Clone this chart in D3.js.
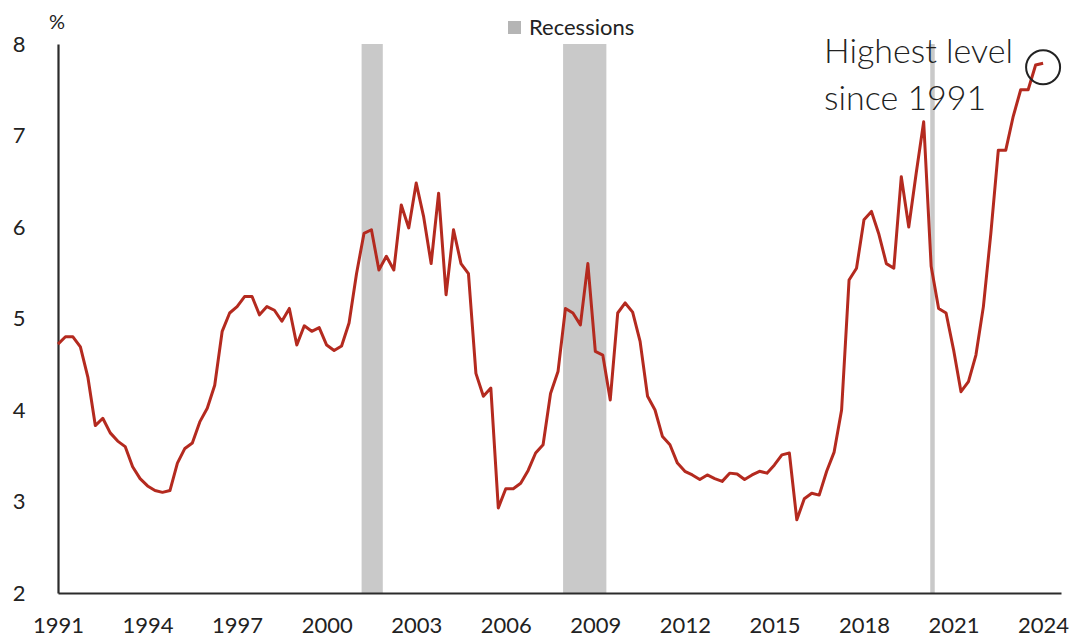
<!DOCTYPE html>
<html>
<head>
<meta charset="utf-8">
<script src="https://cdn.jsdelivr.net/npm/d3@7"></script>
<style>
  html, body { margin: 0; padding: 0; background: #ffffff; }
  svg { display: block; font-family: Lato, "Open Sans", sans-serif; }
</style>
</head>
<body>
<svg id="chart" width="1077" height="637"></svg>
<script>
// Quarterly rate, %, starting 1991 Q1
const startYear = 1991;
const rate = [
  4.72, 4.80, 4.80, 4.69, 4.36, 3.83, 3.91, 3.75, 3.66, 3.60,
  3.38, 3.25, 3.17, 3.12, 3.10, 3.12, 3.42, 3.58, 3.64, 3.87,
  4.02, 4.27, 4.86, 5.06, 5.13, 5.24, 5.24, 5.04, 5.13, 5.09,
  4.97, 5.11, 4.71, 4.92, 4.86, 4.90, 4.71, 4.65, 4.70, 4.95,
  5.49, 5.93, 5.97, 5.53, 5.68, 5.53, 6.24, 5.99, 6.48, 6.11,
  5.60, 6.37, 5.26, 5.97, 5.60, 5.49, 4.40, 4.15, 4.24, 2.93,
  3.14, 3.14, 3.20, 3.34, 3.53, 3.62, 4.18, 4.42, 5.11, 5.06,
  4.93, 5.60, 4.64, 4.60, 4.11, 5.06, 5.17, 5.07, 4.75, 4.15,
  4.00, 3.71, 3.62, 3.42, 3.33, 3.29, 3.24, 3.29, 3.25, 3.22,
  3.31, 3.30, 3.24, 3.29, 3.33, 3.31, 3.40, 3.51, 3.53, 2.80,
  3.03, 3.09, 3.07, 3.33, 3.54, 4.00, 5.42, 5.55, 6.08, 6.17,
  5.92, 5.60, 5.55, 6.55, 6.00, 6.59, 7.15, 5.57, 5.11, 5.06,
  4.66, 4.20, 4.31, 4.60, 5.13, 5.93, 6.84, 6.84, 7.21, 7.50,
  7.50, 7.77, 7.79
];

// Recession periods (fractional years)
const recessionStart = [2001.17, 2007.92, 2020.22];
const recessionEnd   = [2001.88, 2009.37, 2020.37];

const xTickYears = [1991, 1994, 1997, 2000, 2003, 2006, 2009, 2012, 2015, 2018, 2021, 2024];
const yTickValues = [2, 3, 4, 5, 6, 7, 8];

const legendLabel = "Recessions";
const unitLabel = "%";
const noteLines = ["Highest level", "since 1991"];

const series = rate.map((v, i) => ({ t: startYear + i / 4, v }));
const recessions = recessionStart.map((s, i) => ({ s, e: recessionEnd[i] }));

const svg = d3.select("#chart");
const margin = { left: 58, right: 16, top: 44, bottom: 44 };
const W = 1077, H = 637;

const x = d3.scaleLinear().domain([1991, 2024.6]).range([margin.left, W - margin.right]);
const y = d3.scaleLinear().domain([2, 8]).range([H - margin.bottom, margin.top]);

// recession shading
svg.append("g").selectAll("rect")
  .data(recessions)
  .join("rect")
  .attr("x", d => x(d.s))
  .attr("width", d => x(d.e) - x(d.s))
  .attr("y", y(8))
  .attr("height", y(2) - y(8))
  .attr("fill", "#c9c9c9");

// axes
const xAxis = d3.axisBottom(x)
  .tickValues(xTickYears)
  .tickFormat(d3.format("d"))
  .tickSize(0)
  .tickPadding(24);
const gx = svg.append("g")
  .attr("transform", `translate(0,${y(2)})`)
  .call(xAxis);
gx.select(".domain").attr("stroke", "#2b2b2b").attr("stroke-width", 2.2);
gx.selectAll("text").attr("font-size", 22).attr("fill", "#222").attr("font-family", "Lato, sans-serif");

const yAxis = d3.axisLeft(y)
  .tickValues(yTickValues)
  .tickFormat(d3.format("d"))
  .tickSize(0)
  .tickPadding(0);
const gy = svg.append("g")
  .attr("transform", `translate(${x(1991)},0)`)
  .call(yAxis);
gy.select(".domain").attr("stroke", "#2b2b2b").attr("stroke-width", 2.2);
gy.selectAll("text").attr("font-size", 22).attr("fill", "#222")
  .attr("text-anchor", "middle").attr("x", -39).attr("font-family", "Lato, sans-serif");

// unit label
svg.append("text")
  .attr("x", x(1991) - 1)
  .attr("y", 29)
  .attr("text-anchor", "middle")
  .attr("font-size", 20)
  .attr("fill", "#222")
  .text(unitLabel);

// legend
svg.append("rect")
  .attr("x", 508).attr("y", 21)
  .attr("width", 13).attr("height", 13)
  .attr("fill", "#b5b5b5");
svg.append("text")
  .attr("x", 529).attr("y", 35)
  .attr("font-size", 22)
  .attr("fill", "#222")
  .text(legendLabel);

// the series line
const line = d3.line()
  .x(d => x(d.t))
  .y(d => y(d.v));
svg.append("path")
  .datum(series)
  .attr("fill", "none")
  .attr("stroke", "#b42a1f")
  .attr("stroke-width", 3)
  .attr("stroke-linejoin", "round")
  .attr("d", line);

// annotation on the latest reading
const last = series[series.length - 1];
svg.append("circle")
  .attr("cx", x(last.t))
  .attr("cy", y(last.v) + 4)
  .attr("r", 17)
  .attr("fill", "none")
  .attr("stroke", "#222")
  .attr("stroke-width", 2);

const note = svg.append("text")
  .attr("font-size", 34)
  .attr("font-weight", 300)
  .attr("fill", "#222");
note.selectAll("tspan")
  .data(noteLines)
  .join("tspan")
  .attr("x", 824)
  .attr("y", (d, i) => 63 + i * 47)
  .text(d => d);
</script>
</body>
</html>
